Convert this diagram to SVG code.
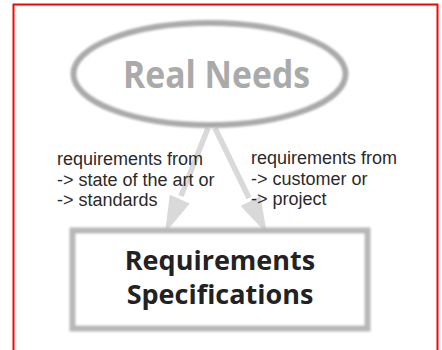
<svg xmlns="http://www.w3.org/2000/svg" width="442" height="350" viewBox="0 0 442 350">
  <style>
    .frame { fill: #ffffff; stroke: #ff0000; stroke-width: 2; }
    .soft { fill: #ffffff; stroke: #aaaaaa; stroke-width: 6; filter: url(#blur); }
    .conn-line { stroke: #d9d9d9; stroke-width: 5.5; fill: none; }
    .conn-head { fill: #d9d9d9; stroke: none; }
    .title { font-family: "Open Sans", "Noto Sans", sans-serif; font-weight: 700; text-anchor: middle; }
    .label { font-family: "Liberation Sans", Arial, sans-serif; font-size: 18px; fill: #2a2a2a; }
  </style>
  <defs>
    <filter id="blur" x="-10%" y="-20%" width="120%" height="140%">
      <feGaussianBlur stdDeviation="1.2"/>
    </filter>
  </defs>
  <rect class="frame" x="13.5" y="4.5" width="424" height="360"/>

  <g id="connectors">
    <line class="conn-line" x1="208" y1="128" x2="181" y2="196"/>
    <polygon class="conn-head" points="165,233 189.8,203.5 169.8,194.7"/>
    <line class="conn-line" x1="215" y1="128" x2="249" y2="198"/>
    <polygon class="conn-head" points="267,234 260.3,196.1 240.7,205.9"/>
  </g>

  <g id="real-needs">
    <ellipse class="soft" cx="209.5" cy="74" rx="136" ry="51"/>
    <text class="title" x="216.5" y="88" font-size="37" fill="#aaaaaa" textLength="187" lengthAdjust="spacingAndGlyphs">Real Needs</text>
  </g>

  <g id="label-left">
    <text class="label" x="57" y="165">requirements from<tspan x="57" dy="20.5">-&gt; state of the art or</tspan><tspan x="57" dy="20.5">-&gt; standards</tspan></text>
  </g>

  <g id="label-right">
    <text class="label" x="251" y="164">requirements from<tspan x="251" dy="20.5">-&gt; customer or</tspan><tspan x="251" dy="20.5">-&gt; project</tspan></text>
  </g>

  <g id="requirements-specifications">
    <rect class="soft" x="72.5" y="230.5" width="295" height="98" style="stroke:#b8b8b8"/>
    <text class="title" x="220" y="270" font-size="27" fill="#222222">Requirements<tspan x="220" dy="34">Specifications</tspan></text>
  </g>
</svg>
